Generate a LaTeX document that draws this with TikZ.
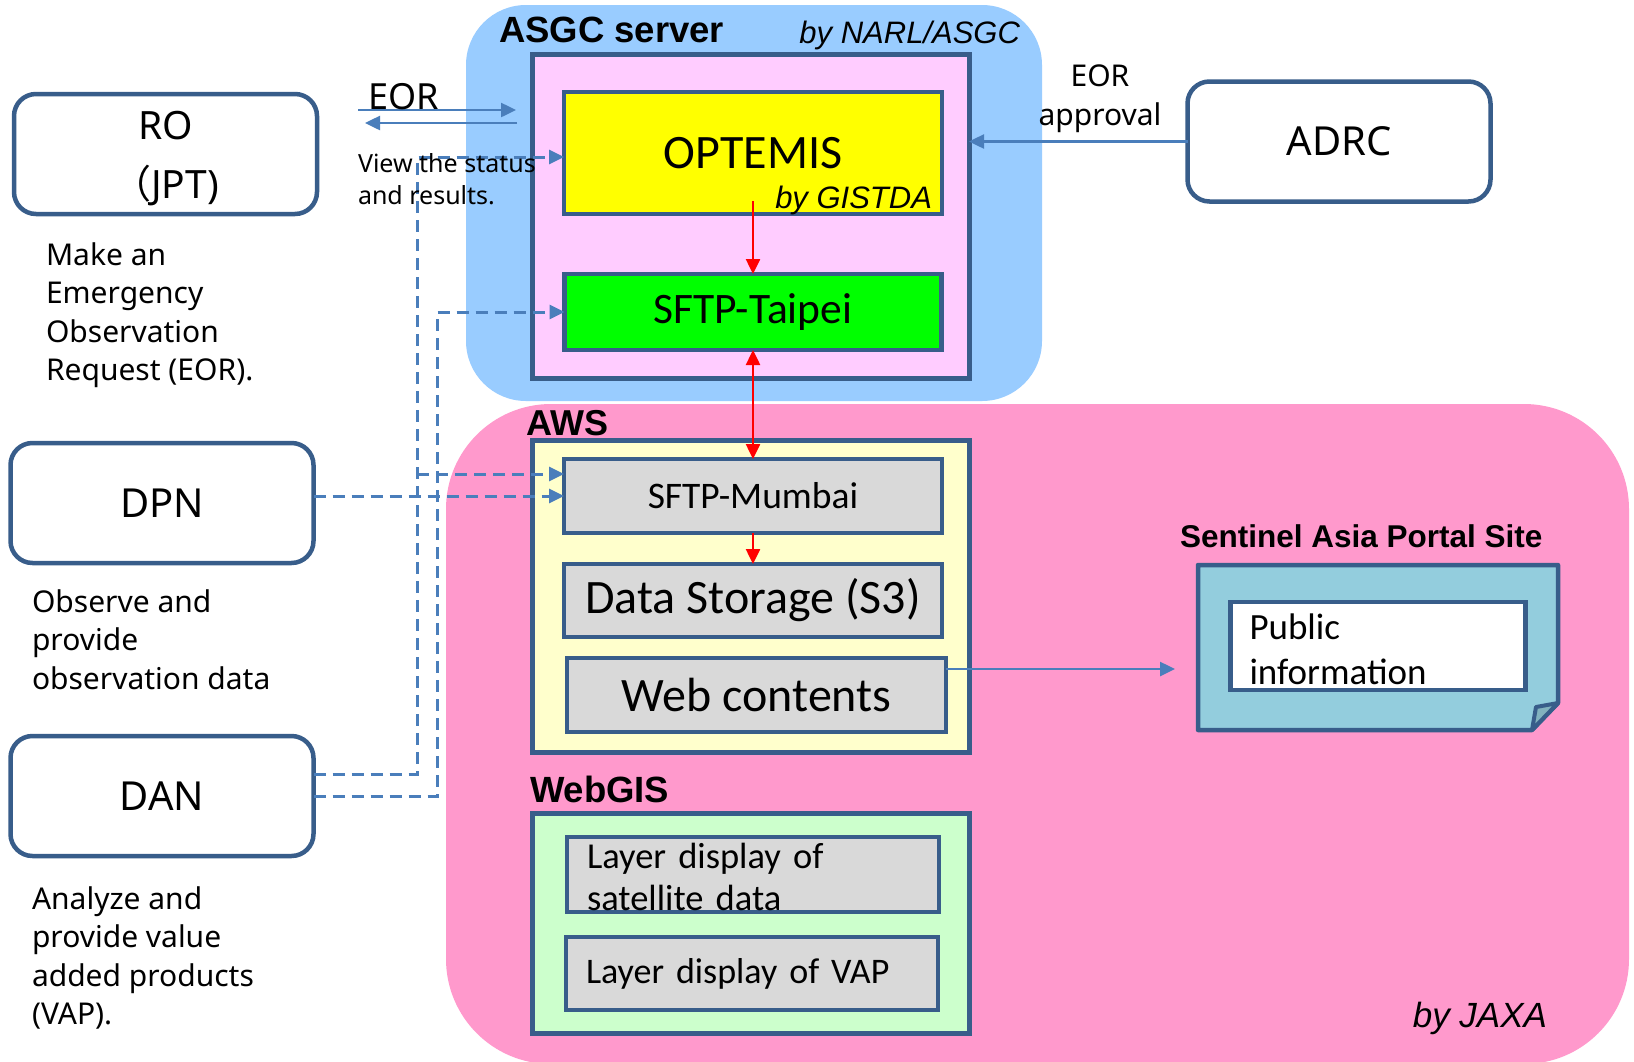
\documentclass[tikz,border=0pt]{standalone}
\usepackage{fontspec}
\setmainfont{Carlito}
\newfontfamily\notosans{Noto Sans}
\newfontfamily\byfont{Liberation Sans}
\newfontfamily\cjk{Noto Sans CJK JP}
\usetikzlibrary{arrows.meta}
\newcommand\myfs[2]{\fontsize{#1pt}{#2pt}\selectfont}
\definecolor{bd}{HTML}{385D8A}
\definecolor{arrowblue}{HTML}{4A7EBB}
\definecolor{asgcblue}{HTML}{99CCFF}
\definecolor{innerpink}{HTML}{FFCCFF}
\definecolor{jaxapink}{HTML}{FF99CC}
\definecolor{awsyellow}{HTML}{FFFFCC}
\definecolor{gislime}{HTML}{CCFFCC}
\definecolor{boxgray}{HTML}{D9D9D9}
\definecolor{portalblue}{HTML}{93CDDD}
\definecolor{foldc}{HTML}{82B2BE}
\definecolor{optyellow}{HTML}{FFFF00}
\definecolor{sftpgreen}{HTML}{00FF00}
\begin{document}
\begin{tikzpicture}[x=1pt,y=-1pt,
  every node/.style={inner sep=0pt, outer sep=0pt},
  agent/.style={draw=bd, line width=4.5pt, rounded corners=22pt, fill=white,
    minimum width=303pt, minimum height=120pt, font=\notosans\myfs{40}{59}, align=center},
  srvframe/.style={draw=bd, line width=5pt, minimum width=437pt},
  inbox/.style={draw=bd, line width=4.5pt},
  barrow/.style={draw=arrowblue, line width=2.5pt, -{Triangle[length=15pt,width=14pt]}},
  dashln/.style={draw=arrowblue, line width=3pt, dash pattern=on 12pt off 7pt, -{Triangle[length=15pt,width=14pt]}},
  redline/.style={draw=red, line width=2.5pt},
  redtip/.style={redline, -{Triangle[length=15pt,width=14pt]}},
  reddbl/.style={redline, {Triangle[length=15pt,width=14pt]}-{Triangle[length=15pt,width=14pt]}},
  grptitle/.style={font=\byfont\bfseries\myfs{36.5}{44}},
  byline/.style={font=\byfont\itshape\myfs{31}{36}},
  desctext/.style={font=\notosans\myfs{30}{38.6}, align=left, anchor=north west},
]
\path[fill=white, use as bounding box] (0,0) rectangle (1634,1061);

% backgrounds
\node[fill=asgcblue, rounded corners=60pt, minimum width=576pt, minimum height=396pt] (asgc) at (754,203) {};
\node[fill=jaxapink, rounded corners=105pt, minimum width=1183pt, minimum height=660pt] (jaxa) at (1037.5,734) {};

% ASGC server
\node[srvframe, fill=innerpink, minimum height=324pt] (asgcin) at (750.5,216) {};
\node[inbox, fill=optyellow, minimum width=378pt, minimum height=122pt, font=\myfs{48}{56}] (optemis) at (753,153) {OPTEMIS};
\node[inbox, fill=sftpgreen, minimum width=377pt, minimum height=76pt, font=\myfs{43.5}{50}] (taipei) at (753,312) {SFTP-Taipei};

% AWS
\node[srvframe, fill=awsyellow, minimum height=312pt] (aws) at (750.5,596) {};
\node[inbox, fill=boxgray, minimum width=378pt, minimum height=74pt, font=\myfs{37.5}{44}] (mumbai) at (753,496) {SFTP-Mumbai};
\node[inbox, fill=boxgray, minimum width=378pt, minimum height=73pt, font=\myfs{48}{56}] (storage) at (753,600.5) {Data Storage (S3)};
\node[inbox, fill=boxgray, minimum width=379pt, minimum height=74pt, font=\myfs{48}{56}] (web) at (756.5,695) {Web contents};

% WebGIS
\node[srvframe, fill=gislime, minimum height=220pt] (gis) at (750.5,923) {};
\node[inbox, fill=boxgray, text width=332pt, inner xsep=20pt, minimum height=75pt, align=left, font=\myfs{36.5}{42}] (sat) at (753,874.5) {\strut Layer display of\\satellite data};
\node[inbox, fill=boxgray, text width=332pt, inner xsep=20pt, minimum height=73pt, align=left, font=\myfs{36}{42}] (vap) at (752,973.5) {Layer display of VAP};

% Portal site
\path[fill=portalblue, draw=bd, line width=4.5pt, line join=round] (1198,565) -- (1558,565) -- (1558,703) -- (1532,730) -- (1198,730) -- cycle;
\path[fill=foldc, draw=bd, line width=4pt, line join=round] (1558,703) -- (1536,707) -- (1532,730) -- cycle;
\node[inbox, fill=white, text width=257pt, inner xsep=19pt, minimum height=88pt, align=left, font=\myfs{37}{45}] (pub) at (1378,646) {\strut Public\\information};

% agents
\node[agent] (ro) at (165.5,154) {};
\node[align=center, font=\notosans\myfs{39}{59}] (rotext) at ([yshift=-5pt]ro.center) {RO\\{\cjk （}JPT)};
\node[agent] (dpn) at (162,503) {DPN};
\node[agent] (dan) at (162,796) {DAN};
\node[agent] (adrc) at (1339,141.5) {ADRC};

% connectors
\coordinate (j1) at (417,157);
\coordinate (j2) at (437,312);
\coordinate (j3) at (417,474);
\draw[dashln] ([yshift=22pt]dan.east) -| (j1) -- (j1 -| optemis.west);
\draw[dashln] (dan.east) -| (j2) -- (j2 -| taipei.west);
\draw[dashln] (j3) -- (j3 -| mumbai.west);
\draw[dashln] (dpn.east |- mumbai.west) -- (mumbai.west);

\coordinate (eor1) at (358,110);
\coordinate (eor2) at (516,110);
\coordinate (eor3) at (517,123);
\coordinate (eor4) at (365,123);
\draw[barrow] (eor1) -- (eor2);
\draw[barrow] (eor3) -- (eor4);
\draw[barrow] (adrc.west) -- (adrc.west -| asgcin.east);
\coordinate (pin) at (1175,669);
\draw[barrow] (web.east |- pin) -- (pin);

\draw[redtip] ([yshift=13pt]optemis.south) -- (taipei.north);
\draw[reddbl] (taipei.south) -- (mumbai.north);
\draw[redtip] (mumbai.south) -- (storage.north);

% titles
\node[grptitle, anchor=base west] (asgct) at (499,42) {ASGC server};
\node[byline, anchor=base east] (narl) at (1020,43) {by NARL/ASGC};
\node[byline, anchor=base east] (gistda) at (932,208) {by GISTDA};
\node[grptitle, anchor=base west, font=\byfont\bfseries\myfs{36}{44}] (awst) at (526,435) {AWS};
\node[grptitle, anchor=base west] (gist) at (530,802) {WebGIS};
\node[byline, anchor=base east, font=\byfont\itshape\myfs{35}{40}] (jaxat) at (1547,1027) {by JAXA};
\node[grptitle, anchor=base west, font=\byfont\bfseries\myfs{31.5}{36}] (portalt) at (1180,547) {Sentinel Asia Portal Site};

% descriptions
\node[anchor=base west, font=\notosans\myfs{36}{42}] (eort) at (368,109) {EOR};
\node[desctext, font=\notosans\myfs{25}{32}] (viewt) at (358,149.6) {\strut View the status\\and results.};
\node[anchor=north, align=center, font=\notosans\myfs{30}{39}] (eorapp) at (1100,59) {\strut EOR\\approval};
\node[desctext] (rodesc) at (46,238) {\strut Make an\\Emergency\\Observation\\Request (EOR).};
\node[desctext] (dpndesc) at (32,585) {\strut Observe and\\provide\\observation data};
\node[desctext] (dandesc) at (32,882) {\strut Analyze and\\provide value\\added products\\(VAP).};
\end{tikzpicture}
\end{document}
